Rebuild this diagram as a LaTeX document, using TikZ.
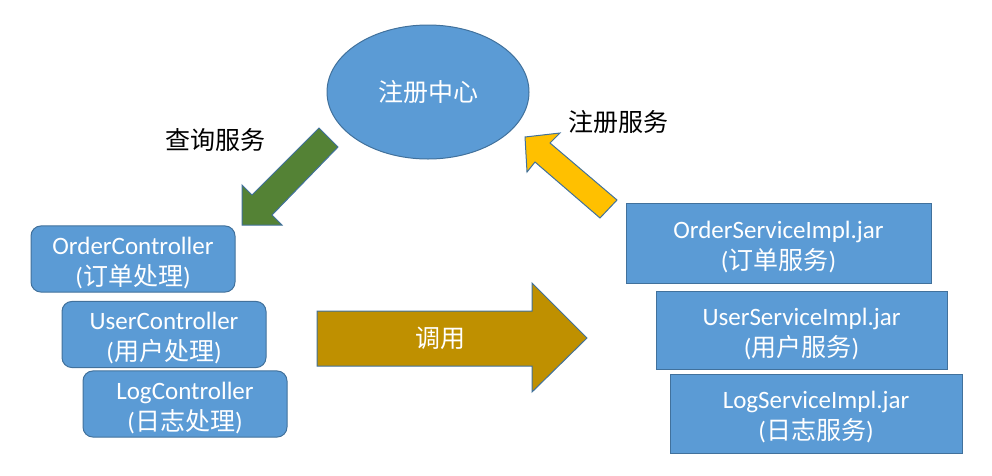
\documentclass[tikz,border=0pt]{standalone}
\usepackage{fontspec}
\setmainfont{Carlito}
\newfontfamily\cjk{Noto Sans CJK SC}
\newcommand{\zh}[1]{{\cjk #1}}
\newcommand{\topstrut}{\rule{0pt}{25pt}}
\usetikzlibrary{shapes.geometric}
\definecolor{boxblue}{HTML}{5B9BD5}
\definecolor{edgeblue}{HTML}{41719C}
\definecolor{arrgreen}{HTML}{548235}
\definecolor{arrgold}{HTML}{BF9000}
\definecolor{arryellow}{HTML}{FFC000}
\begin{document}
\begin{tikzpicture}[x=1pt,y=-1pt,
	txt/.style={font=\fontsize{25}{31}\selectfont, align=center},
	box/.style={txt, draw=edgeblue, fill=boxblue, text=white, line width=1pt},
	ctrl/.style={box, rounded corners=10pt, minimum width=204pt},
	impl/.style={box},
	blk/.style={draw=edgeblue, line width=1pt}]
				\useasboundingbox (0,0) rectangle (992,475);
				% registry
				\node[txt, ellipse, draw=edgeblue, fill=boxblue, text=white, line width=1pt, minimum width=202pt, minimum height=134pt, inner sep=0pt] (reg) at (428,92) {\zh{注册中心}};
				% controllers
				\node[ctrl, minimum height=64pt] (oc) at (133,259) {\topstrut OrderController\\(\zh{订单处理})};
				\node[ctrl, minimum height=65pt] (uc) at (164,334.5) {\topstrut UserController\\(\zh{用户处理})};
				\node[ctrl, minimum height=64pt] (lc) at (185,404) {\topstrut LogController\\(\zh{日志处理})};
				% services
				\node[impl, minimum width=305pt, minimum height=80pt] (os) at (778.5,243) {\topstrut OrderServiceImpl.jar\\(\zh{订单服务})};
				\node[impl, minimum width=291pt, minimum height=78pt] (us) at (801.5,330) {\topstrut UserServiceImpl.jar\\(\zh{用户服务})};
				\node[impl, minimum width=292pt, minimum height=79pt] (ls) at (816,413.5) {\topstrut LogServiceImpl.jar\\(\zh{日志服务})};
				% query arrow
				\coordinate (Q1) at (319,128);
				\coordinate (Q2) at (338,147);
				\coordinate (QT) at (242,225);
				\filldraw[blk, fill=arrgreen] (Q1) -- (252,195) -- (242,185) -- (QT) -- (282,225) -- (272,215) -- (Q2) -- cycle;
				\node[txt] (query) at (215,140) {\zh{查询服务}};
				% register arrow
				\coordinate (R1) at (617,200);
				\coordinate (R2) at (600,218);
				\coordinate (RT) at (525,137);
				\filldraw[blk, fill=arryellow] (R1) -- (550,143) -- (560,133) -- (RT) -- (527,172) -- (535,162) -- (R2) -- cycle;
				\node[txt] (register) at (618,122) {\zh{注册服务}};
				% call arrow
				\coordinate (C1) at (317,311);
				\coordinate (C2) at (317,366);
				\coordinate (CT) at (587,338);
				\filldraw[blk, fill=arrgold] (C1) -- (532,311) -- (532,283) -- (CT) -- (532,392) -- (532,366) -- (C2) -- cycle;
				\node[txt, text=white] (call) at (440,338) {\zh{调用}};
\end{tikzpicture}
\end{document}
